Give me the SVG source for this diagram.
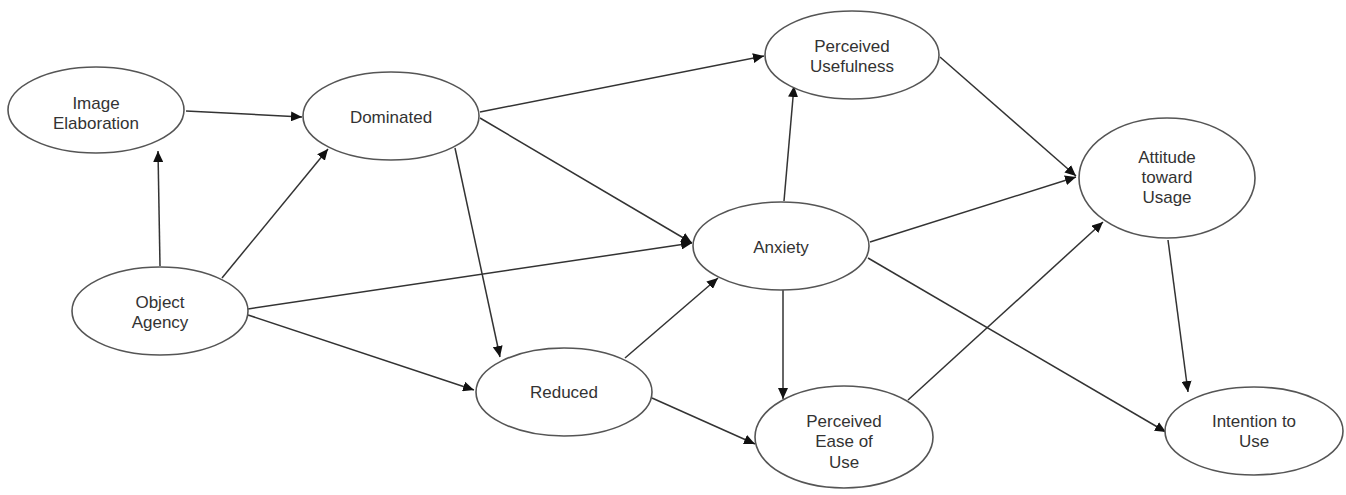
<svg xmlns="http://www.w3.org/2000/svg" width="1346" height="495" viewBox="0 0 1346 495">
<defs>
<style>
.n{fill:#fff;stroke:#555;stroke-width:1.6}
.t{font-family:"Liberation Sans",Arial,sans-serif;font-size:17px;fill:#333;text-anchor:middle}
.c{stroke:#333;stroke-width:1.5;fill:none;marker-end:url(#ah)}
</style>
<marker id="ah" markerUnits="userSpaceOnUse" markerWidth="12" markerHeight="10" refX="11" refY="5" orient="auto">
<path d="M0,0 L11,5 L0,10 Z" fill="#111"/>
</marker>
</defs>
<rect width="1346" height="495" fill="#fff"/>
<g id="connectors">
<line class="c" x1="186" y1="111" x2="302" y2="117"/>
<line class="c" x1="160" y1="266" x2="158" y2="151"/>
<line class="c" x1="222" y1="278" x2="328" y2="149"/>
<line class="c" x1="248" y1="309" x2="692" y2="243"/>
<line class="c" x1="248" y1="315" x2="474" y2="390"/>
<line class="c" x1="480" y1="112" x2="764" y2="56"/>
<line class="c" x1="480" y1="118" x2="692" y2="243"/>
<line class="c" x1="455" y1="148" x2="500" y2="357"/>
<line class="c" x1="625" y1="358" x2="718" y2="278"/>
<line class="c" x1="652" y1="398" x2="755" y2="444"/>
<line class="c" x1="784" y1="201" x2="794" y2="86"/>
<line class="c" x1="870" y1="242" x2="1076" y2="177"/>
<line class="c" x1="783" y1="290" x2="783" y2="399"/>
<line class="c" x1="868" y1="258" x2="1166" y2="432"/>
<line class="c" x1="940" y1="57" x2="1076" y2="176"/>
<line class="c" x1="908" y1="400" x2="1103" y2="222"/>
<line class="c" x1="1168" y1="240" x2="1188" y2="392"/>
</g>
<g id="image-elaboration"><ellipse class="n" cx="96" cy="110" rx="88" ry="43"/><text class="t" x="96" y="109">Image</text><text class="t" x="96" y="129">Elaboration</text></g>
<g id="dominated"><ellipse class="n" cx="391" cy="116" rx="88" ry="44"/><text class="t" x="391" y="123">Dominated</text></g>
<g id="perceived-usefulness"><ellipse class="n" cx="852" cy="55" rx="87" ry="44"/><text class="t" x="852" y="52">Perceived</text><text class="t" x="852" y="72">Usefulness</text></g>
<g id="attitude-toward-usage"><ellipse class="n" cx="1167" cy="178" rx="88" ry="60"/><text class="t" x="1167" y="163">Attitude</text><text class="t" x="1167" y="183">toward</text><text class="t" x="1167" y="203">Usage</text></g>
<g id="anxiety"><ellipse class="n" cx="781" cy="246" rx="88" ry="44"/><text class="t" x="781" y="253">Anxiety</text></g>
<g id="object-agency"><ellipse class="n" cx="160" cy="311" rx="88" ry="44"/><text class="t" x="160" y="308">Object</text><text class="t" x="160" y="328">Agency</text></g>
<g id="reduced"><ellipse class="n" cx="564" cy="392" rx="88" ry="44"/><text class="t" x="564" y="398">Reduced</text></g>
<g id="perceived-ease-of-use"><ellipse class="n" cx="844" cy="437" rx="89" ry="51"/><text class="t" x="844" y="427">Perceived</text><text class="t" x="844" y="447">Ease of</text><text class="t" x="844" y="468">Use</text></g>
<g id="intention-to-use"><ellipse class="n" cx="1254" cy="431" rx="89" ry="44"/><text class="t" x="1254" y="427">Intention to</text><text class="t" x="1254" y="447">Use</text></g>
</svg>
